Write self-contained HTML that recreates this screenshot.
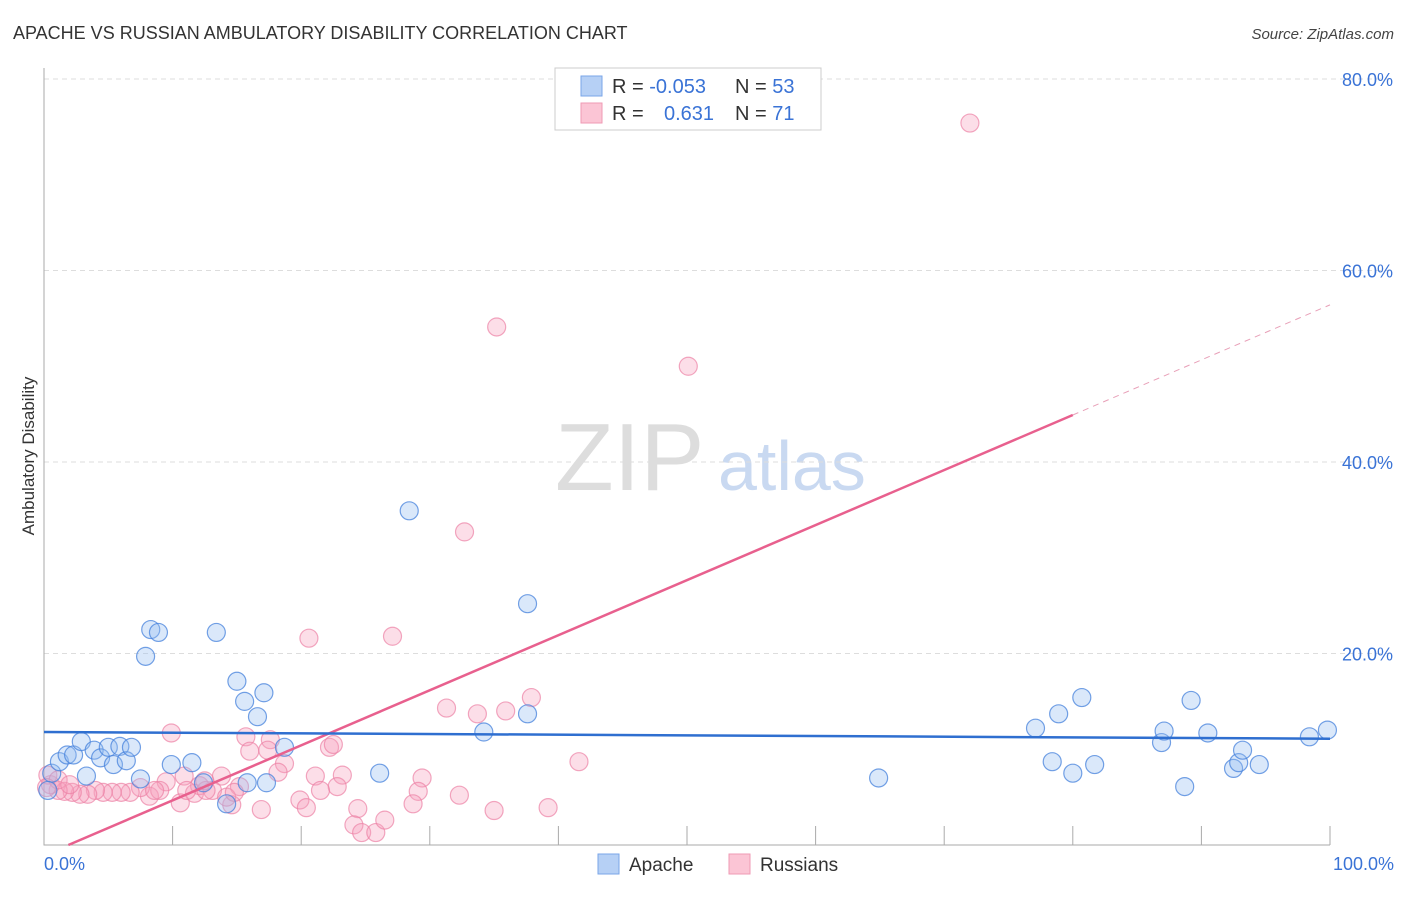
<!DOCTYPE html>
<html><head><meta charset="utf-8"><style>
body{margin:0;background:#fff;font-family:"Liberation Sans",sans-serif}
svg text{font-family:"Liberation Sans",sans-serif}
</style></head><body>
<svg id="chart" width="1406" height="892" xmlns="http://www.w3.org/2000/svg">
<text x="13" y="39" font-size="18" fill="#333">APACHE VS RUSSIAN AMBULATORY DISABILITY CORRELATION CHART</text>
<text x="1394" y="39" font-size="15" fill="#444" font-style="italic" text-anchor="end">Source: ZipAtlas.com</text>
<text transform="translate(34,456) rotate(-90)" font-size="17" fill="#333" text-anchor="middle">Ambulatory Disability</text>
<g><text x="555" y="490" font-size="96" fill="#ddd" font-family="Liberation Serif">ZIP</text><text x="718" y="490" font-size="70" fill="#c9d9f1">atlas</text></g>
<g id="grid"></g><g id="marks"></g>
<g>
<rect x="555" y="68" width="266" height="62" fill="#fff" stroke="#ccc"/>
<rect x="581" y="76" width="21" height="20" fill="#b6d0f5" stroke="#7aa6e8"/>
<rect x="581" y="103" width="21" height="20" fill="#fbc5d5" stroke="#ef9ab4"/>
<text x="612" y="93" font-size="20" fill="#333">R = <tspan fill="#3a73d6">-0.053</tspan></text>
<text x="735" y="93" font-size="20" fill="#333">N = <tspan fill="#3a73d6">53</tspan></text>
<text x="612" y="120" font-size="20" fill="#333">R = </text><text x="664" y="120" font-size="20" fill="#3a73d6">0.631</text>
<text x="735" y="120" font-size="20" fill="#333">N = <tspan fill="#3a73d6"> 71</tspan></text>
</g>
<g>
<rect x="598" y="854" width="21" height="20" fill="#b6d0f5" stroke="#7aa6e8"/><text x="629" y="871" font-size="19" fill="#333">Apache</text>
<rect x="729" y="854" width="21" height="20" fill="#fbc5d5" stroke="#ef9ab4"/><text x="760" y="871" font-size="19" fill="#333">Russians</text>
</g>
</svg>
<script>
const yTicks=[20,40,60,80];
const xTickLabels=["0.0%","100.0%"];
const apacheX=[0.6,1.2,1.8,2.3,2.9,3.3,3.9,4.4,5.0,5.4,5.9,6.4,6.8,7.5,7.9,8.3,8.9,9.9,11.5,12.4,13.4,14.2,15.0,15.6,15.8,16.6,17.1,17.3,18.7,26.1,28.4,34.2,37.6,37.6,64.9,77.1,78.4,78.9,80.0,80.7,81.7,86.9,87.1,88.7,89.2,90.5,92.5,92.9,93.2,94.5,98.4,99.8,0.3];
const apacheY=[7.5,8.7,9.4,9.4,10.8,7.2,9.9,9.1,10.2,8.4,10.3,8.8,10.2,6.9,19.7,22.5,22.2,8.4,8.6,6.5,22.2,4.3,17.1,15.0,6.5,13.4,15.9,6.5,10.2,7.5,34.9,11.8,25.2,13.7,7.0,12.2,8.7,13.7,7.5,15.4,8.4,10.7,11.9,6.1,15.1,11.7,8.0,8.6,9.9,8.4,11.3,12.0,5.7];
const russX=[72.0,35.2,50.1,32.7,20.6,27.1,37.9,31.3,33.7,35.9,9.9,15.7,17.6,16.0,17.4,18.7,18.2,22.2,22.5,41.6,13.8,10.9,9.5,21.1,23.2,22.8,29.4,29.1,21.5,15.2,13.1,11.7,12.1,12.6,19.9,20.4,16.9,14.6,10.6,8.2,14.2,24.4,24.1,24.7,25.8,26.5,28.7,32.3,35.0,39.2,9.0,7.5,6.7,6.0,5.3,4.6,4.0,3.4,2.8,2.2,1.6,1.1,0.5,0.3,1.1,2.0,8.6,11.1,12.5,14.8,0.2];
const russY=[75.4,54.1,50.0,32.7,21.6,21.8,15.4,14.3,13.7,14.0,11.7,11.3,11.0,9.8,9.9,8.5,7.6,10.2,10.5,8.7,7.2,7.2,6.6,7.2,7.3,6.1,7.0,5.6,5.7,6.1,5.7,5.4,6.2,5.7,4.7,3.9,3.7,4.2,4.4,5.1,5.0,3.8,2.1,1.3,1.3,2.6,4.3,5.2,3.6,3.9,5.7,6.0,5.5,5.5,5.5,5.5,5.7,5.3,5.3,5.5,5.6,5.7,6.3,7.3,6.8,6.3,5.7,5.7,6.7,5.5,6.0];
const apacheTrend=[11.8,11.1];
const russTrend=[-1.09,0.575];
const NS="http://www.w3.org/2000/svg";
const X=v=>44+v*12.86, Y=v=>845-v*9.575;
function mk(tag,attrs,parent){const e=document.createElementNS(NS,tag);for(const k in attrs)e.setAttribute(k,attrs[k]);parent.appendChild(e);return e;}
const grid=document.getElementById('grid'),marks=document.getElementById('marks');
yTicks.forEach(t=>{
 const l=mk('line',{x1:44,x2:1394,y1:Y(t),y2:Y(t),stroke:'#ddd','stroke-dasharray':'5,4'},grid);
 
 
 const tx=mk('text',{x:1393,y:Y(t)+7,'font-size':18,fill:'#3a73d6','text-anchor':'end'},grid);
 tx.textContent=t.toFixed(1)+'%';
 
 
});
const ax=mk('path',{d:'M44 68V845H1330',stroke:'#aaa',fill:'none'},grid);


for(let i=1;i<=10;i++){const t=mk('line',{x1:X(i*10),x2:X(i*10),y1:826,y2:845,stroke:'#aaa'},grid);
 
 }
[[0,'start',44],[100,'end',1394]].forEach((d,i)=>{const t=mk('text',{x:d[2],y:870,'font-size':18,fill:'#3a73d6','text-anchor':d[1]},grid);t.textContent=xTickLabels[i];
 
 });
russX.forEach((x,i)=>{const c=mk('circle',{cx:X(x),cy:Y(russY[i]),r:9,fill:'rgba(246,160,188,0.35)',stroke:'rgba(236,130,165,0.7)','stroke-width':1.2},marks);
 
 });
apacheX.forEach((x,i)=>{const c=mk('circle',{cx:X(x),cy:Y(apacheY[i]),r:9,fill:'rgba(150,190,240,0.35)',stroke:'rgba(70,130,220,0.75)','stroke-width':1.2},marks);
 
 });
const x0=-russTrend[0]/russTrend[1];
let l=mk('line',{x1:X(x0),y1:Y(0),x2:X(80),y2:Y(russTrend[0]+russTrend[1]*80),stroke:'#e8608e','stroke-width':2.5},marks);


l=mk('line',{x1:X(80),y1:Y(russTrend[0]+russTrend[1]*80),x2:X(100),y2:Y(russTrend[0]+russTrend[1]*100),stroke:'#e8a0b8','stroke-width':1,'stroke-dasharray':'6,5'},marks);


l=mk('line',{x1:X(0),y1:Y(apacheTrend[0]),x2:X(100),y2:Y(apacheTrend[1]),stroke:'#2f6fd0','stroke-width':2.5},marks);


</script>
</body></html>
